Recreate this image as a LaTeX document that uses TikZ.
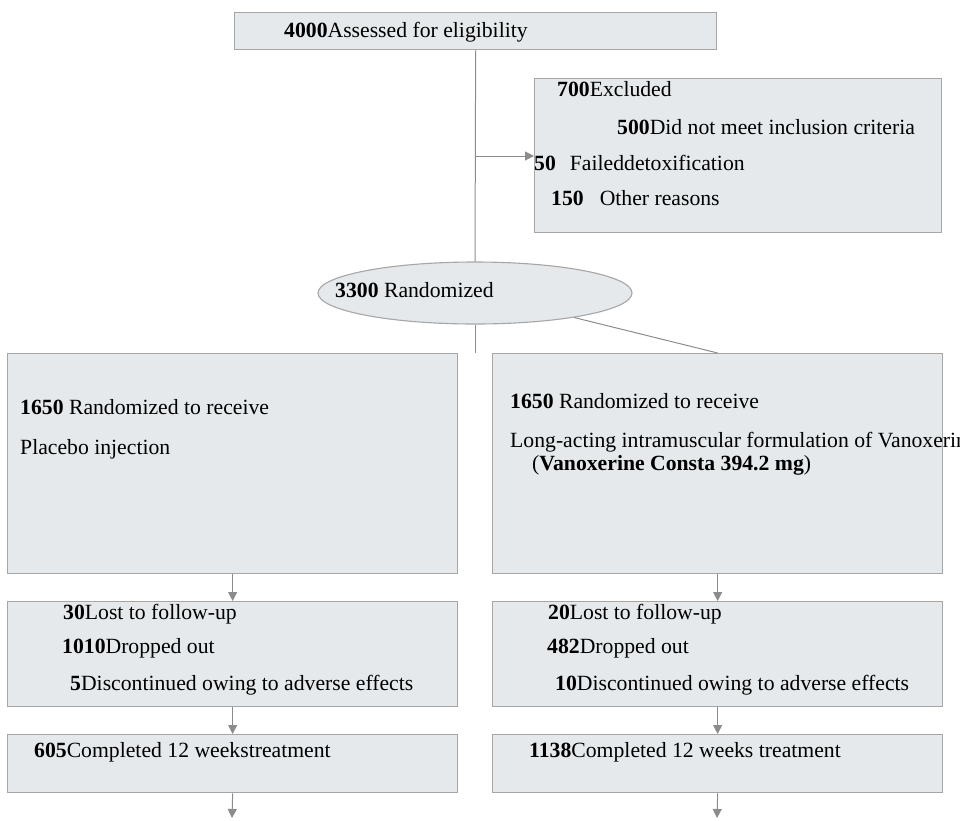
\documentclass[tikz,border=0pt]{standalone}
\usepackage{fontspec}
\setmainfont{Liberation Serif}
\usetikzlibrary{shapes.geometric,arrows.meta}
\definecolor{boxfill}{HTML}{E5E9EB}
\definecolor{boxline}{HTML}{A6A6A6}
\definecolor{conn}{HTML}{8C8C8C}
\begin{document}
\begin{tikzpicture}[x=1pt,y=-1pt,
  box/.style={draw=boxline, fill=boxfill, line width=1.3pt, inner sep=0, anchor=north west},
  txt/.style={anchor=base west, inner sep=0, font=\fontsize{21.7}{26}\selectfont},
  conline/.style={draw=conn, line width=1pt},
  arr/.style={conline, -{Triangle[length=9pt,width=9pt]}}]
\useasboundingbox (0,0) rectangle (960,820);
\clip (0,0) rectangle (960,820);

% boxes
\node[box, minimum width=482, minimum height=37] (top) at (234,12) {};
\node[box, minimum width=407, minimum height=154] (excl) at (534,78) {};
\node[ellipse, draw=boxline, fill=boxfill, line width=1.1pt, minimum width=314, minimum height=62, inner sep=0] (rand) at (475,293) {};
\node[box, minimum width=450, minimum height=220] (lbox) at (7,353) {};
\node[box, minimum width=450, minimum height=220] (rbox) at (492,353) {};
\node[box, minimum width=450, minimum height=105] (lmid) at (7,601) {};
\node[box, minimum width=450, minimum height=105] (rmid) at (492,601) {};
\node[box, minimum width=450, minimum height=58] (lbot) at (7,734) {};
\node[box, minimum width=450, minimum height=58] (rbot) at (492,734) {};

% texts
\node[txt] (t1) at (284,37) {\textbf{4000}Assessed for eligibility};
\node[txt] (e1) at (557,96) {\textbf{700}Excluded};
\node[txt] (e2) at (617,134) {\textbf{500}Did not meet inclusion criteria};
\node[txt] (e3) at (534,170) {\textbf{50}\hspace{14pt}Faileddetoxification};
\node[txt] (e4) at (551,205) {\textbf{150}\hspace{16pt}Other reasons};
\node[txt] (r1) at (335,297) {\textbf{3300} Randomized};
\node[txt] (l1) at (20,414) {\textbf{1650} Randomized to receive};
\node[txt] (l2) at (20,454) {Placebo injection};
\node[txt] (q1) at (510,408) {\textbf{1650} Randomized to receive};
\node[txt] (q2) at (510,447) {Long-acting intramuscular formulation of Vanoxerine};
\node[txt] (q3) at (532,470) {(\textbf{Vanoxerine Consta 394.2 mg})};
\node[txt] (lm1) at (63,619) {\textbf{30}Lost to follow-up};
\node[txt] (lm2) at (62,653) {\textbf{1010}Dropped out};
\node[txt] (lm3) at (70,690) {\textbf{5}Discontinued owing to adverse effects};
\node[txt] (rm1) at (548,619) {\textbf{20}Lost to follow-up};
\node[txt] (rm2) at (547,653) {\textbf{482}Dropped out};
\node[txt] (rm3) at (555,690) {\textbf{10}Discontinued owing to adverse effects};
\node[txt] (lb1) at (34,757) {\textbf{605}Completed 12 weekstreatment};
\node[txt] (rb1) at (529,757) {\textbf{1138}Completed 12 weeks treatment};

% connectors
\coordinate (split) at (475,353);
\coordinate (br) at (475,156);
\coordinate (lend) at (232,818);
\coordinate (rend) at (717,818);
\draw[conline] (top.south) -- (rand.north);
\draw[conline] (rand.south) -- (split);
\draw[arr] (br) -- (br -| excl.west);
\draw[conline] (rbox.north) -- (rand);
\draw[arr] (lbox.south) -- (lmid.north);
\draw[arr] (lmid.south) -- (lbot.north);
\draw[arr] (lbot.south) -- (lend);
\draw[arr] (rbox.south) -- (rmid.north);
\draw[arr] (rmid.south) -- (rbot.north);
\draw[arr] (rbot.south) -- (rend);
\end{tikzpicture}
\end{document}
